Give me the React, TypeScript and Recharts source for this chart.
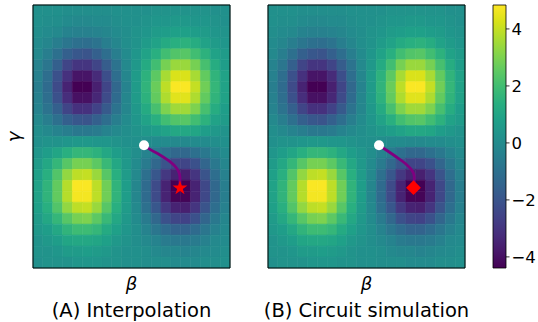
import React from "react";
import { ComposedChart, Scatter, Line, XAxis, YAxis, ReferenceArea } from "recharts";

// cost landscape, 20 beta columns x 24 gamma rows, row 0 = top of the panel
const landscape: number[][] = [
  [0.2, 0.2, 0.2, 0.1, 0.1, 0.1, 0.1, 0.1, 0.2, 0.2, 0.2, 0.2, 0.3, 0.3, 0.3, 0.3, 0.3, 0.3, 0.2, 0.2],
  [0.2, 0.1, 0.1, 0.0, -0.1, -0.1, 0.0, 0.0, 0.1, 0.2, 0.2, 0.3, 0.4, 0.4, 0.5, 0.5, 0.4, 0.4, 0.3, 0.2],
  [0.1, 0.0, -0.1, -0.3, -0.4, -0.4, -0.3, -0.2, 0.0, 0.1, 0.3, 0.4, 0.6, 0.7, 0.8, 0.8, 0.7, 0.6, 0.4, 0.3],
  [0.0, -0.2, -0.5, -0.8, -1.0, -1.1, -0.9, -0.5, -0.2, 0.1, 0.3, 0.6, 0.9, 1.2, 1.4, 1.5, 1.3, 0.9, 0.6, 0.4],
  [-0.1, -0.5, -1.0, -1.6, -1.9, -2.0, -1.6, -1.1, -0.5, 0.0, 0.4, 0.9, 1.4, 2.0, 2.3, 2.4, 2.0, 1.5, 0.9, 0.6],
  [-0.3, -0.8, -1.6, -2.5, -3.0, -3.0, -2.5, -1.7, -0.9, -0.1, 0.5, 1.2, 2.0, 2.9, 3.4, 3.4, 2.9, 2.1, 1.3, 0.7],
  [-0.4, -1.1, -2.1, -3.1, -3.9, -3.9, -3.3, -2.2, -1.1, -0.2, 0.6, 1.5, 2.5, 3.6, 4.3, 4.3, 3.6, 2.6, 1.6, 0.9],
  [-0.5, -1.2, -2.3, -3.5, -4.4, -4.4, -3.6, -2.5, -1.3, -0.3, 0.6, 1.6, 2.7, 3.9, 4.8, 4.8, 4.0, 2.8, 1.7, 0.9],
  [-0.4, -1.1, -2.1, -3.2, -4.0, -4.0, -3.4, -2.3, -1.2, -0.2, 0.6, 1.5, 2.6, 3.7, 4.4, 4.4, 3.7, 2.6, 1.6, 0.9],
  [-0.3, -0.9, -1.6, -2.5, -3.1, -3.1, -2.6, -1.8, -0.9, -0.2, 0.5, 1.2, 2.1, 3.0, 3.5, 3.5, 3.0, 2.1, 1.3, 0.7],
  [-0.1, -0.5, -1.0, -1.6, -1.9, -2.0, -1.6, -1.1, -0.5, 0.0, 0.4, 0.9, 1.4, 2.0, 2.3, 2.4, 2.0, 1.5, 0.9, 0.6],
  [0.1, -0.1, -0.3, -0.5, -0.7, -0.7, -0.6, -0.3, -0.1, 0.1, 0.3, 0.5, 0.7, 0.9, 1.1, 1.1, 1.0, 0.7, 0.5, 0.3],
  [0.2, 0.3, 0.3, 0.4, 0.5, 0.5, 0.4, 0.4, 0.3, 0.2, 0.2, 0.1, 0.0, 0.0, -0.1, -0.1, 0.0, 0.0, 0.1, 0.2],
  [0.4, 0.7, 1.0, 1.4, 1.7, 1.7, 1.5, 1.1, 0.7, 0.4, 0.1, -0.3, -0.6, -1.0, -1.3, -1.3, -1.0, -0.7, -0.3, 0.0],
  [0.6, 1.1, 1.7, 2.4, 2.9, 2.9, 2.5, 1.8, 1.1, 0.5, 0.0, -0.6, -1.3, -2.0, -2.5, -2.5, -2.1, -1.4, -0.7, -0.2],
  [0.8, 1.4, 2.3, 3.3, 3.9, 4.0, 3.4, 2.4, 1.4, 0.6, -0.1, -1.0, -1.9, -2.9, -3.5, -3.6, -3.0, -2.0, -1.1, -0.4],
  [0.9, 1.6, 2.6, 3.8, 4.8, 4.8, 3.9, 2.8, 1.6, 0.7, -0.2, -1.2, -2.3, -3.5, -4.4, -4.4, -3.5, -2.4, -1.3, -0.5],
  [0.9, 1.6, 2.6, 3.8, 4.7, 4.7, 3.9, 2.8, 1.6, 0.7, -0.2, -1.2, -2.3, -3.5, -4.3, -4.3, -3.5, -2.4, -1.3, -0.5],
  [0.8, 1.4, 2.3, 3.3, 3.9, 4.0, 3.4, 2.4, 1.4, 0.6, -0.1, -1.0, -1.9, -2.9, -3.5, -3.6, -3.0, -2.0, -1.1, -0.4],
  [0.6, 1.1, 1.7, 2.4, 2.9, 3.0, 2.5, 1.8, 1.1, 0.5, 0.0, -0.6, -1.3, -2.1, -2.5, -2.6, -2.1, -1.4, -0.7, -0.2],
  [0.5, 0.7, 1.1, 1.6, 1.9, 1.9, 1.7, 1.2, 0.8, 0.4, 0.1, -0.3, -0.8, -1.2, -1.5, -1.5, -1.2, -0.8, -0.4, -0.1],
  [0.3, 0.5, 0.7, 1.0, 1.1, 1.1, 1.0, 0.8, 0.5, 0.3, 0.1, -0.1, -0.3, -0.6, -0.7, -0.7, -0.6, -0.4, -0.1, 0.0],
  [0.3, 0.3, 0.4, 0.6, 0.6, 0.7, 0.6, 0.5, 0.3, 0.2, 0.2, 0.1, -0.1, -0.2, -0.2, -0.3, -0.2, -0.1, 0.0, 0.1],
  [0.2, 0.3, 0.3, 0.3, 0.4, 0.4, 0.4, 0.3, 0.3, 0.2, 0.2, 0.1, 0.1, 0.1, 0.0, 0.0, 0.0, 0.1, 0.1, 0.2],
];

// optimiser trajectories in grid units (b = beta column, g = gamma row from bottom)
const pathA = [
  { b: 11.27, g: 11.2 },
  { b: 11.88, g: 10.83 },
  { b: 12.89, g: 10.31 },
  { b: 13.91, g: 9.7 },
  { b: 14.59, g: 9.1 },
  { b: 14.85, g: 8.64 },
  { b: 14.92, g: 8.19 },
  { b: 14.92, g: 7.3 },
];
const pathB = [
  { b: 11.27, g: 11.2 },
  { b: 12.89, g: 10.22 },
  { b: 13.91, g: 9.56 },
  { b: 14.59, g: 8.95 },
  { b: 14.85, g: 8.33 },
  { b: 14.77, g: 7.33 },
];

const vmin = -4.39;
const vmax = 4.84;
const cbTicks = [-4, -2, 0, 2, 4];

const nCols = 20;
const nRows = 24;

const viridisStops = [
  "#440154", "#48186a", "#472d7b", "#424086", "#3b528b", "#33638d", "#2c728e", "#26828e",
  "#21918c", "#1fa088", "#28ae80", "#3fbc73", "#5ec962", "#84d44b", "#addc30", "#d8e219", "#fde725",
];

const hex = (h: string) => [1, 3, 5].map((k) => parseInt(h.slice(k, k + 2), 16));

function viridis(v: number) {
  let t = (v - vmin) / (vmax - vmin);
  t = Math.max(0, Math.min(1, t));
  const p = t * (viridisStops.length - 1);
  const i = Math.min(Math.floor(p), viridisStops.length - 2);
  const f = p - i;
  const a = hex(viridisStops[i]);
  const b = hex(viridisStops[i + 1]);
  const c = a.map((x, k) => Math.round(x + (b[k] - x) * f));
  return `rgb(${c[0]},${c[1]},${c[2]})`;
}

const FONT = "DejaVu Sans";

const Star = (p: any) => {
  const R = 7.8;
  const pts: string[] = [];
  for (let k = 0; k < 10; k++) {
    const ang = (-90 + k * 36) * (Math.PI / 180);
    const r = k % 2 === 0 ? R : R * 0.382;
    pts.push(`${p.cx + r * Math.cos(ang)},${p.cy + r * Math.sin(ang)}`);
  }
  return <polygon points={pts.join(" ")} fill="#ff0000" />;
};

const Diamond = (p: any) => {
  const R = 7.4;
  return (
    <polygon
      points={`${p.cx},${p.cy - R} ${p.cx + R},${p.cy} ${p.cx},${p.cy + R} ${p.cx - R},${p.cy}`}
      fill="#ff0000"
    />
  );
};

const Dot = (p: any) => <circle cx={p.cx} cy={p.cy} r={5} fill="#ffffff" />;
const NoMark = () => <g />;

function Panel({ left, path, end }: { left: number; path: { b: number; g: number }[]; end: "star" | "diamond" }) {
  return (
    <div style={{ position: "absolute", left: 0, top: 0 }}>
      <ComposedChart width={538} height={322} margin={{ top: 5, bottom: 54, left, right: 538 - left - 197 }}>
        <XAxis type="number" dataKey="b" domain={[0, nCols]} hide />
        <YAxis type="number" dataKey="g" domain={[0, nRows]} hide />
        {landscape.flatMap((row, j) =>
          row.map((v, i) => {
            const c = viridis(v);
            return (
              <ReferenceArea
                key={`${i}-${j}`}
                x1={i}
                x2={i + 1}
                y1={nRows - j - 1}
                y2={nRows - j}
                fill={c}
                fillOpacity={1}
                stroke={c}
                strokeWidth={0.6}
                ifOverflow="visible"
              />
            );
          })
        )}
        <ReferenceArea x1={0} x2={nCols} y1={0} y2={nRows} fill="none" stroke="#000" strokeWidth={1} ifOverflow="visible" />
        <Line
          data={path}
          dataKey="g"
          type="monotoneY"
          stroke="#800080"
          strokeWidth={2.8}
          dot={false}
          isAnimationActive={false}
        />
        <Scatter data={[path[0]]} dataKey="g" shape={Dot} isAnimationActive={false} />
        <Scatter
          data={[path[path.length - 1]]}
          dataKey="g"
          shape={end === "star" ? Star : Diamond}
          isAnimationActive={false}
        />
      </ComposedChart>
    </div>
  );
}

const cbData = cbTicks.map((v) => ({ x: 0.5, v }));

function ColorBar() {
  return (
    <div style={{ position: "absolute", left: 0, top: 0 }}>
      <ComposedChart
        width={538}
        height={322}
        data={cbData}
        margin={{ top: 5, bottom: 54, left: 493, right: 0 }}
      >
        <defs>
          <linearGradient id="viridisCb" x1="0" y1="1" x2="0" y2="0">
            {viridisStops.map((c, k) => (
              <stop key={c} offset={`${(k / (viridisStops.length - 1)) * 100}%`} stopColor={c} />
            ))}
          </linearGradient>
        </defs>
        <XAxis type="number" dataKey="x" domain={[0, 1]} hide />
        <YAxis
          type="number"
          dataKey="v"
          orientation="right"
          width={32}
          domain={[vmin, vmax]}
          allowDataOverflow
          ticks={cbTicks}
          interval={0}
          axisLine={false}
          tickSize={3.5}
          tickMargin={2}
          tickLine={{ stroke: "#000", strokeWidth: 0.8 }}
          tick={{ fill: "#000", fontSize: 16.5, fontFamily: FONT }}
          tickFormatter={(v: number) => (v < 0 ? `\u2212${-v}` : `${v}`)}
        />
        <ReferenceArea
          x1={0}
          x2={1}
          y1={vmin}
          y2={vmax}
          fill="url(#viridisCb)"
          fillOpacity={1}
          stroke="#000"
          strokeWidth={0.8}
          ifOverflow="visible"
        />
        <Scatter dataKey="v" shape={NoMark} isAnimationActive={false} />
      </ComposedChart>
    </div>
  );
}

export default function App() {
  return (
    <div
      style={{
        position: "absolute",
        left: 0,
        top: 0,
        width: 538,
        height: 322,
        background: "#fff",
        fontFamily: FONT,
        overflow: "hidden",
      }}
    >
      <Panel left={33} path={pathA} end="star" />
      <Panel left={268} path={pathB} end="diamond" />
      <ColorBar />
      <svg
        width={538}
        height={322}
        style={{ position: "absolute", left: 0, top: 0, pointerEvents: "none" }}
        fontFamily={FONT}
      >
        <text x={131.5} y={290} fontSize={18} fontStyle="italic" textAnchor="middle">β</text>
        <text x={366.5} y={290} fontSize={18} fontStyle="italic" textAnchor="middle">β</text>
        <text x={131.5} y={316.5} fontSize={19.5} textAnchor="middle">(A) Interpolation</text>
        <text x={366.5} y={316.5} fontSize={19.5} textAnchor="middle">(B) Circuit simulation</text>
        <text transform="translate(19.5,137) rotate(-90)" fontSize={18} fontStyle="italic" textAnchor="middle">γ</text>
      </svg>
    </div>
  );
}
